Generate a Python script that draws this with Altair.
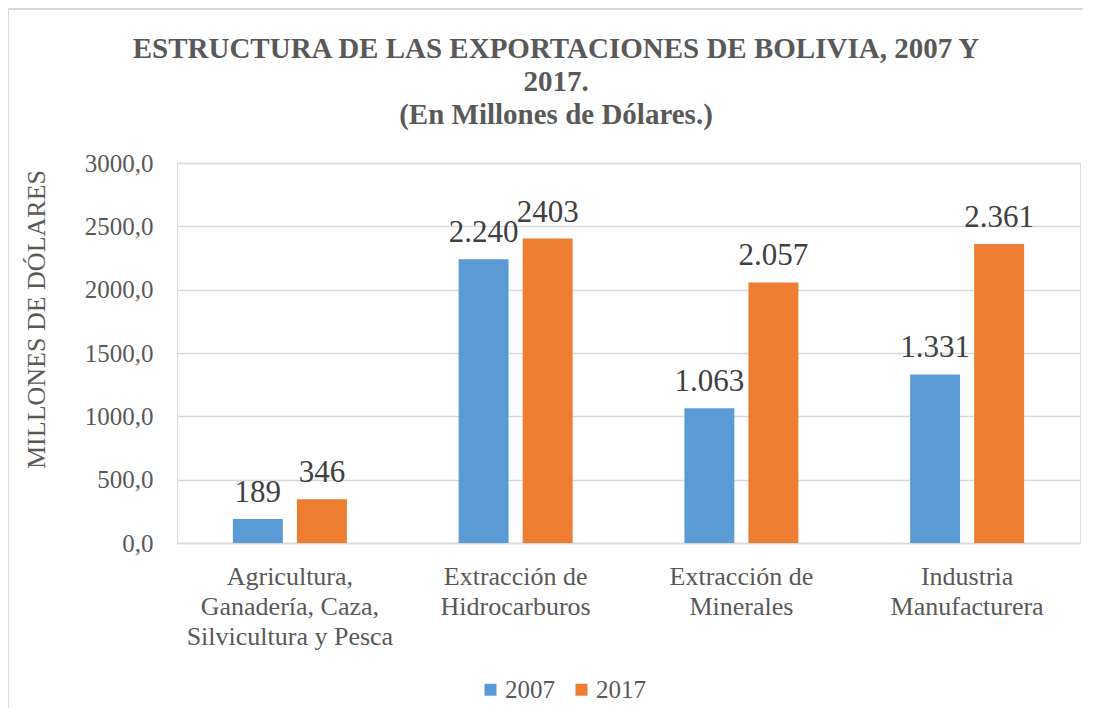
import altair as alt
import pandas as pd

# ---- data ----
categories = [
    ["Agricultura,", "Ganadería, Caza,", "Silvicultura y Pesca"],
    ["Extracción de", "Hidrocarburos"],
    ["Extracción de", "Minerales"],
    ["Industria", "Manufacturera"],
]
years = ["2007", "2017"]
values_2007 = [189, 2240, 1063, 1331]
values_2017 = [346, 2403, 2057, 2361]
labels_2007 = ["189", "2.240", "1.063", "1.331"]
labels_2017 = ["346", "2403", "2.057", "2.361"]
y_ticks = [0, 500, 1000, 1500, 2000, 2500, 3000]
title_lines = ["ESTRUCTURA DE LAS EXPORTACIONES DE BOLIVIA, 2007 Y", "2017.", "(En Millones de Dólares.)"]
y_title = "MILLONES DE DÓLARES"
colors = ["#5B9BD5", "#ED7D31"]

cat_keys = ["|".join(c) for c in categories]
rows = []
for k, v7, v17, l7, l17 in zip(cat_keys, values_2007, values_2017, labels_2007, labels_2017):
    rows.append({"cat": k, "year": years[0], "value": v7, "label": l7})
    rows.append({"cat": k, "year": years[1], "value": v17, "label": l17})
df = pd.DataFrame(rows)

FONT = "Liberation Serif"
TXT = "#595959"
GRID = "#D9D9D9"

x_enc = alt.X("cat:N", sort=cat_keys, title=None,
              scale=alt.Scale(paddingInner=0.495, paddingOuter=0.2475),
              axis=alt.Axis(labelAngle=0, labelExpr="split(datum.label, '|')",
                            labelFont=FONT, labelFontSize=26, labelColor=TXT,
                            labelLineHeight=30, labelPadding=20, labelLimit=400,
                            ticks=False, domain=True, domainColor=GRID, domainWidth=1.5,
                            grid=False))
xo_enc = alt.XOffset("year:N", sort=years,
                     scale=alt.Scale(paddingInner=0.22, paddingOuter=0))
y_enc = alt.Y("value:Q", title=y_title,
              scale=alt.Scale(domain=[0, 3000], nice=False),
              axis=alt.Axis(values=y_ticks,
                            labelExpr="replace(format(datum.value, '.1f'), '.', ',')",
                            labelFont=FONT, labelFontSize=25, labelColor=TXT,
                            labelPadding=24, ticks=False, domain=False,
                            grid=True, gridColor=GRID, gridWidth=1.5,
                            titleFont=FONT, titleFontSize=26, titleColor=TXT,
                            titleFontWeight="normal", titleX=-141, titleY=156,
                            titleAlign="center", titleBaseline="middle", titleAngle=-90))

bars = alt.Chart(df).mark_bar().encode(
    x=x_enc, xOffset=xo_enc, y=y_enc,
    color=alt.Color("year:N", sort=years,
                    scale=alt.Scale(domain=years, range=colors),
                    legend=alt.Legend(title=None, orient="none", direction="horizontal",
                                      legendX=301, legendY=514,
                                      symbolType="square", symbolSize=144,
                                      symbolStrokeWidth=0, labelFont=FONT,
                                      labelFontSize=25, labelColor=TXT,
                                      labelOffset=2, columnPadding=14, padding=0)),
)

texts = alt.Chart(df).mark_text(font=FONT, fontSize=31, color="#404040",
                                baseline="alphabetic", dy=-17).encode(
    x=alt.X("cat:N", sort=cat_keys),
    xOffset=alt.XOffset("year:N", sort=years),
    y="value:Q",
    text="label:N",
)

frame = alt.Chart(alt.Data(values=[{}])).mark_rect(
    fill=None, stroke=GRID, strokeWidth=2).encode(
    x=alt.value(-169), x2=alt.value(960), y=alt.value(-154), y2=alt.value(600))

title = alt.Chart(alt.Data(values=[{}])).mark_text(
    text=title_lines, font=FONT, fontSize=29, fontWeight="bold", color=TXT,
    align="center", baseline="alphabetic", lineHeight=33).encode(
    x=alt.value(379), y=alt.value(-105))

chart = alt.layer(frame, bars, texts, title).properties(
    width=903, height=380,
    autosize=alt.AutoSizeParams(type="none"),
    padding={"left": 169, "top": 155, "right": 3, "bottom": 165},
).configure_view(stroke=None).configure(background="white")

chart.save("out.html", embed_options={"renderer": "svg", "actions": False})
